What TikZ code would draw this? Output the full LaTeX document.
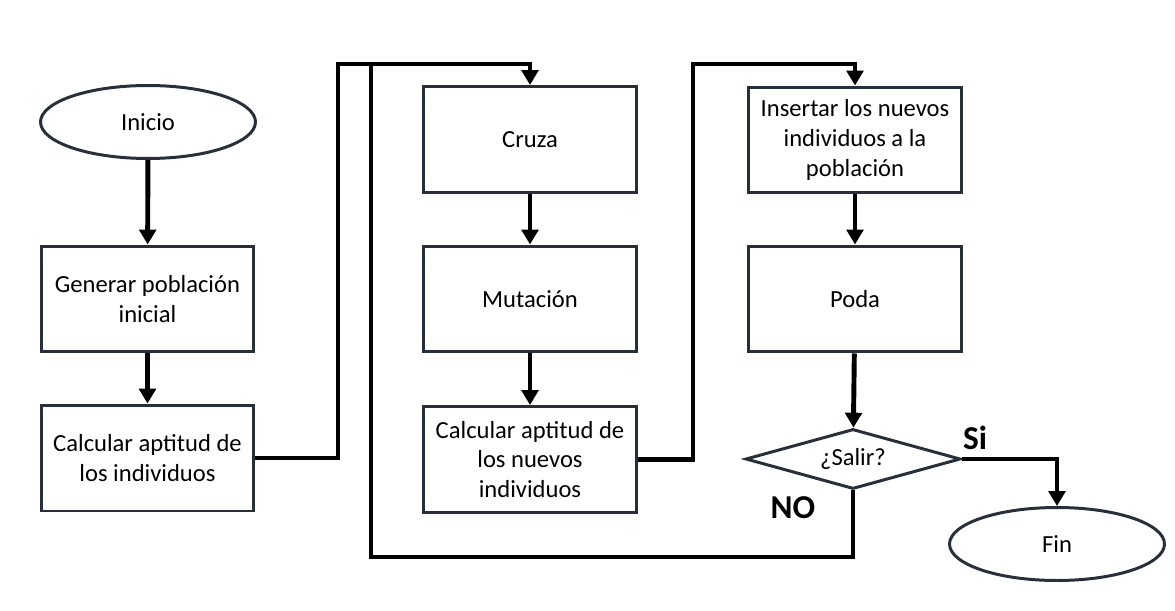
\documentclass[tikz,border=0pt]{standalone}
\usepackage{fontspec}
\setmainfont{Carlito}
\usetikzlibrary{shapes.geometric,arrows.meta}

\definecolor{borde}{HTML}{262F3A}

\tikzset{
	caja/.style={draw=borde,line width=1.7pt,minimum width=4.26cm,minimum height=2.12cm,align=center,inner sep=2pt},
	elipse/.style={ellipse,draw=borde,line width=1.7pt,minimum width=4.3cm,minimum height=1.46cm},
	rombo/.style={diamond,draw=borde,line width=1.7pt,aspect=3.6,minimum width=4.3cm,minimum height=1.2cm,inner sep=0pt},
	linea/.style={line width=2.8pt,black},
	flecha/.style={linea,-{Triangle[length=8.5pt,width=9.5pt]}},
	etiqueta/.style={font=\fontsize{19}{22}\selectfont\bfseries}
}

\begin{document}
\begin{tikzpicture}[x=0.02cm,y=-0.02cm,font=\fontsize{14}{17}\selectfont]
		\useasboundingbox (0,0) rectangle (1175,611);
		\node[elipse] (ini) at (148,122) {Inicio};
		\node[caja] (gen) at (147.5,299) {Generar población\\inicial};
		\node[caja] (apt) at (147.5,458) {Calcular aptitud de\\los individuos};
		\node[caja] (cruza) at (530,139.5) {Cruza};
		\node[caja] (mut) at (530,299) {Mutación};
		\node[caja] (aptn) at (530,459.5) {Calcular aptitud de\\los nuevos\\individuos};
		\node[caja] (ins) at (855,140) {Insertar los nuevos\\individuos a la\\población};
		\node[caja] (poda) at (855,299) {Poda};
		\node[rombo] (sal) at (853,459) {¿Salir?};
		\node[elipse] (fin) at (1057,544) {Fin};
		\coordinate (sube1) at (338,64);
		\coordinate (sube2) at (693,64);
		\coordinate (arriba) at (371,64);
		\coordinate (abajo) at (371,557);
		\draw[flecha] (ini) -- (gen);
		\draw[flecha] (gen) -- (apt);
		\draw[flecha] (apt.east) -| (sube1) -| (cruza.north);
		\draw[flecha] (cruza) -- (mut);
		\draw[flecha] (mut) -- (aptn);
		\draw[flecha] (aptn.east) -| (sube2) -| (ins.north);
		\draw[flecha] (ins) -- (poda);
		\draw[flecha] (poda) -- (sal);
		\draw[flecha] (sal.east) -| (fin.north);
		\draw[linea] (sal.south) |- (abajo) -- (arriba);
		\node[etiqueta] (si) at (975,438) {Si};
		\node[etiqueta] (no) at (793,508) {NO};
	\end{tikzpicture}
\end{document}
